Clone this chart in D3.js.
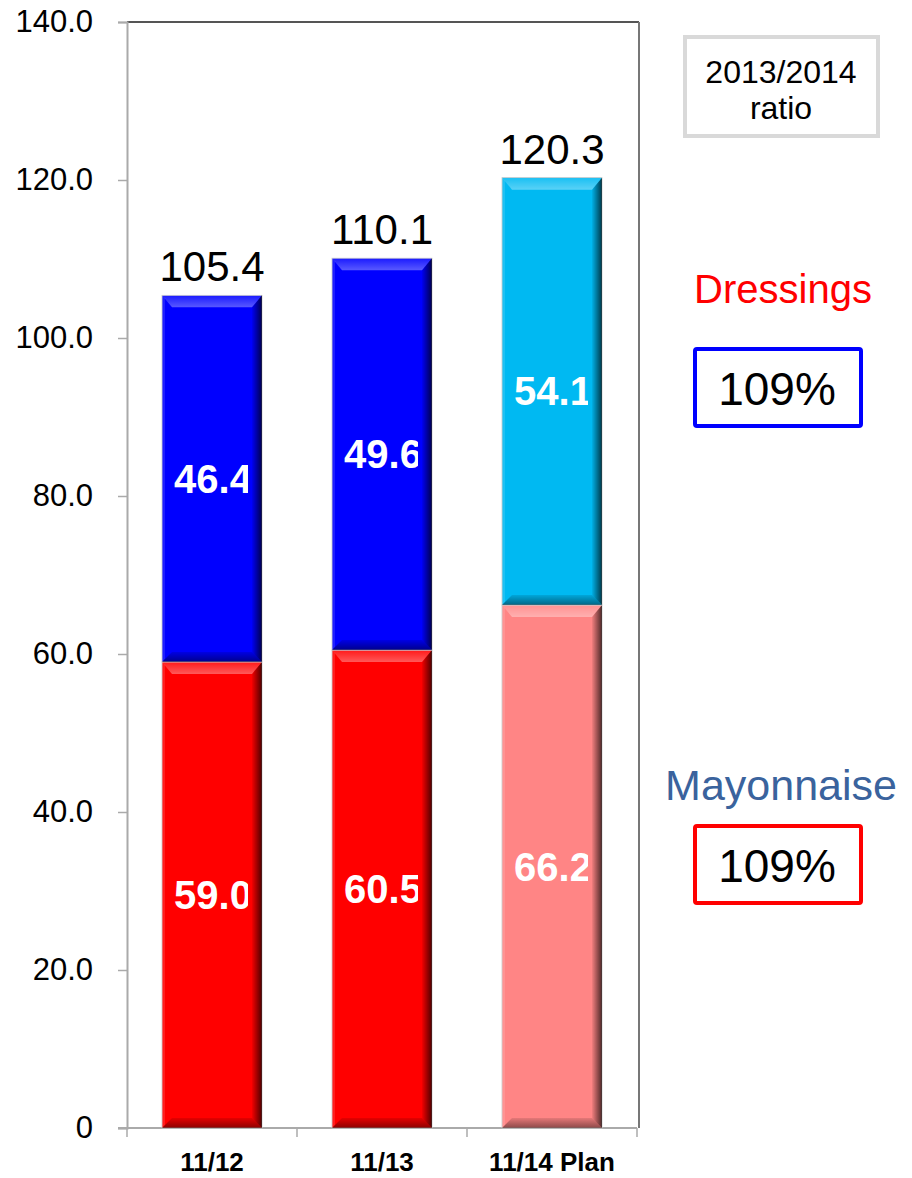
<!DOCTYPE html>
<html>
<head>
<meta charset="utf-8">
<script src="https://cdn.jsdelivr.net/npm/d3@7"></script>
<style>
  html, body { margin: 0; padding: 0; background: #fff; }
  svg { display: block; font-family: Arial, "Liberation Sans", sans-serif; }
</style>
</head>
<body>
<svg id="chart" width="912" height="1178"></svg>
<script>
// Sales by fiscal year (stacked: mayonnaise at the bottom, dressings on top)
const categories = ["11/12", "11/13", "11/14 Plan"];
const mayonnaise = [59.0, 60.5, 66.2];
const dressings = [46.4, 49.6, 54.1];
const totals = [105.4, 110.1, 120.3];
const yTicks = [0, 20, 40, 60, 80, 100, 120, 140];
const mayoColors = ["#ff0000", "#ff0000", "#ff8585"];
const dressColors = ["#0000ff", "#0000ff", "#00b9f2"];
const ratioTitle = ["2013/2014", "ratio"];
const dressingsRatio = "109%";
const mayoRatio = "109%";

const svg = d3.select("#chart");
const plotLeft = 127, plotRight = 637, plotTop = 22, plotBottom = 1128;

const x = d3.scaleBand().domain(categories).range([plotLeft, plotRight])
  .paddingInner(70 / 170).paddingOuter(35 / 170);
const y = d3.scaleLinear().domain([0, 140]).range([plotBottom, plotTop]);

// gradients for the bevelled bar look
const defs = svg.append("defs");
const gRight = defs.append("linearGradient").attr("id", "shadeRight").attr("x1", 0).attr("x2", 1).attr("y1", 0).attr("y2", 0);
gRight.append("stop").attr("offset", 0).attr("stop-color", "#000").attr("stop-opacity", 0.05);
gRight.append("stop").attr("offset", 1).attr("stop-color", "#000").attr("stop-opacity", 0.7);
const gTop = defs.append("linearGradient").attr("id", "shadeTop").attr("x1", 0).attr("x2", 0).attr("y1", 0).attr("y2", 1);
gTop.append("stop").attr("offset", 0).attr("stop-color", "#fff").attr("stop-opacity", 0.1);
gTop.append("stop").attr("offset", 1).attr("stop-color", "#fff").attr("stop-opacity", 0.35);
const gBottom = defs.append("linearGradient").attr("id", "shadeBottom").attr("x1", 0).attr("x2", 0).attr("y1", 0).attr("y2", 1);
gBottom.append("stop").attr("offset", 0).attr("stop-color", "#000").attr("stop-opacity", 0.1);
gBottom.append("stop").attr("offset", 1).attr("stop-color", "#000").attr("stop-opacity", 0.45);

// plot frame: dark top and right edge
svg.append("line").attr("x1", plotLeft).attr("x2", plotRight + 2).attr("y1", plotTop).attr("y2", plotTop)
  .attr("stroke", "#555").attr("stroke-width", 2);
svg.append("line").attr("x1", plotRight + 2).attr("x2", plotRight + 2).attr("y1", plotTop).attr("y2", plotBottom)
  .attr("stroke", "#777").attr("stroke-width", 2);

// y axis
const yAxis = svg.append("g").attr("transform", `translate(${plotLeft},0)`)
  .call(d3.axisLeft(y).tickValues(yTicks).tickSize(9).tickPadding(25)
    .tickFormat(d => d === 0 ? "0" : d3.format(".1f")(d)));
yAxis.select(".domain").attr("stroke", "#aaa").attr("stroke-width", 2);
yAxis.selectAll(".tick line").attr("stroke", "#aaa").attr("stroke-width", 1.5);
yAxis.selectAll(".tick text").attr("font-size", 31).attr("fill", "#000")
  .attr("font-family", "Arial, 'Liberation Sans', sans-serif");

// x axis with tick marks at the band boundaries
const xAxisG = svg.append("g");
xAxisG.append("line").attr("x1", plotLeft - 9).attr("x2", plotRight).attr("y1", plotBottom).attr("y2", plotBottom)
  .attr("stroke", "#aaa").attr("stroke-width", 2);
const boundaries = categories.map(c => x(c) - x.step() * x.paddingOuter() + x.step());
xAxisG.selectAll("line.tk").data([plotLeft, ...boundaries]).join("line").attr("class", "tk")
  .attr("x1", d => d).attr("x2", d => d).attr("y1", plotBottom).attr("y2", plotBottom + 9)
  .attr("stroke", "#aaa").attr("stroke-width", 1.5);
xAxisG.selectAll("text").data(categories).join("text")
  .attr("x", d => x(d) + x.bandwidth() / 2).attr("y", 1171)
  .attr("text-anchor", "middle").attr("font-size", 26).attr("font-weight", "bold")
  .text(d => d);

// stacked segments
const segments = [];
categories.forEach((c, i) => {
  segments.push({ cat: c, i, y0: 0, y1: mayonnaise[i], v: mayonnaise[i], color: mayoColors[i] });
  segments.push({ cat: c, i, y0: mayonnaise[i], y1: mayonnaise[i] + dressings[i], v: dressings[i], color: dressColors[i] });
});

const bev = 10;
const segG = svg.append("g");
const poly = pts => pts.map(p => p.join(",")).join(" ");
segments.forEach((s, k) => {
  const x0 = x(s.cat), w = x.bandwidth();
  const yt = y(s.y1), yb = y(s.y0), h = yb - yt;
  const g = segG.append("g");
  g.append("rect").attr("x", x0).attr("y", yt).attr("width", w).attr("height", h)
    .attr("fill", s.color).attr("stroke", "#c8c8c8").attr("stroke-width", 0.8);
  // top highlight
  g.append("polygon").attr("points", poly([[x0, yt], [x0 + w, yt], [x0 + w - bev, yt + bev + 2], [x0 + bev, yt + bev + 2]]))
    .attr("fill", "url(#shadeTop)");
  // left light edge
  g.append("polygon").attr("points", poly([[x0, yt], [x0 + 3, yt + 3], [x0 + 3, yb - 3], [x0, yb]]))
    .attr("fill", "#fff").attr("opacity", 0.12);
  // bottom shadow
  g.append("polygon").attr("points", poly([[x0, yb], [x0 + w, yb], [x0 + w - bev, yb - bev], [x0 + bev, yb - bev]]))
    .attr("fill", "url(#shadeBottom)");
  // right shadow
  g.append("polygon").attr("points", poly([[x0 + w, yt], [x0 + w, yb], [x0 + w - bev, yb - bev], [x0 + w - bev, yt + bev + 2]]))
    .attr("fill", "url(#shadeRight)");

  // value label inside the segment, clipped to the bar face
  const clipId = "clip" + k;
  defs.append("clipPath").attr("id", clipId).append("rect")
    .attr("x", x0).attr("y", yt).attr("width", w - 14).attr("height", h);
  g.append("text").attr("clip-path", `url(#${clipId})`)
    .attr("x", x0 + w / 2 + 1).attr("y", (yt + yb) / 2 + 14)
    .attr("text-anchor", "middle").attr("font-size", 40).attr("font-weight", "bold")
    .attr("fill", "#fff").text(d3.format(".1f")(s.v));
});

// totals above each bar
svg.append("g").selectAll("text").data(categories).join("text")
  .attr("x", d => x(d) + x.bandwidth() / 2).attr("y", (d, i) => y(totals[i]) - 14)
  .attr("text-anchor", "middle").attr("font-size", 42).attr("fill", "#000")
  .text((d, i) => d3.format(".1f")(totals[i]));

// ratio panel on the right
const cx = 781;
svg.append("rect").attr("x", 685).attr("y", 37).attr("width", 193).attr("height", 99)
  .attr("fill", "#fff").attr("stroke", "#d9d9d9").attr("stroke-width", 4);
svg.append("text").attr("x", cx).attr("y", 83).attr("text-anchor", "middle").attr("font-size", 32).text(ratioTitle[0]);
svg.append("text").attr("x", cx).attr("y", 119).attr("text-anchor", "middle").attr("font-size", 32).text(ratioTitle[1]);

svg.append("text").attr("x", 783).attr("y", 303).attr("text-anchor", "middle").attr("font-size", 40)
  .attr("fill", "#ff0000").text("Dressings");
svg.append("rect").attr("x", 695).attr("y", 349).attr("width", 166).attr("height", 77)
  .attr("fill", "#fff").attr("stroke", "#0000ff").attr("stroke-width", 4).attr("rx", 2);
svg.append("text").attr("x", 777).attr("y", 405).attr("text-anchor", "middle").attr("font-size", 46).text(dressingsRatio);

svg.append("text").attr("x", 781).attr("y", 800).attr("text-anchor", "middle").attr("font-size", 43)
  .attr("fill", "#3a639d").text("Mayonnaise");
svg.append("rect").attr("x", 695).attr("y", 826).attr("width", 166).attr("height", 77)
  .attr("fill", "#fff").attr("stroke", "#ff0000").attr("stroke-width", 4).attr("rx", 2);
svg.append("text").attr("x", 777).attr("y", 882).attr("text-anchor", "middle").attr("font-size", 46).text(mayoRatio);
</script>
</body>
</html>
